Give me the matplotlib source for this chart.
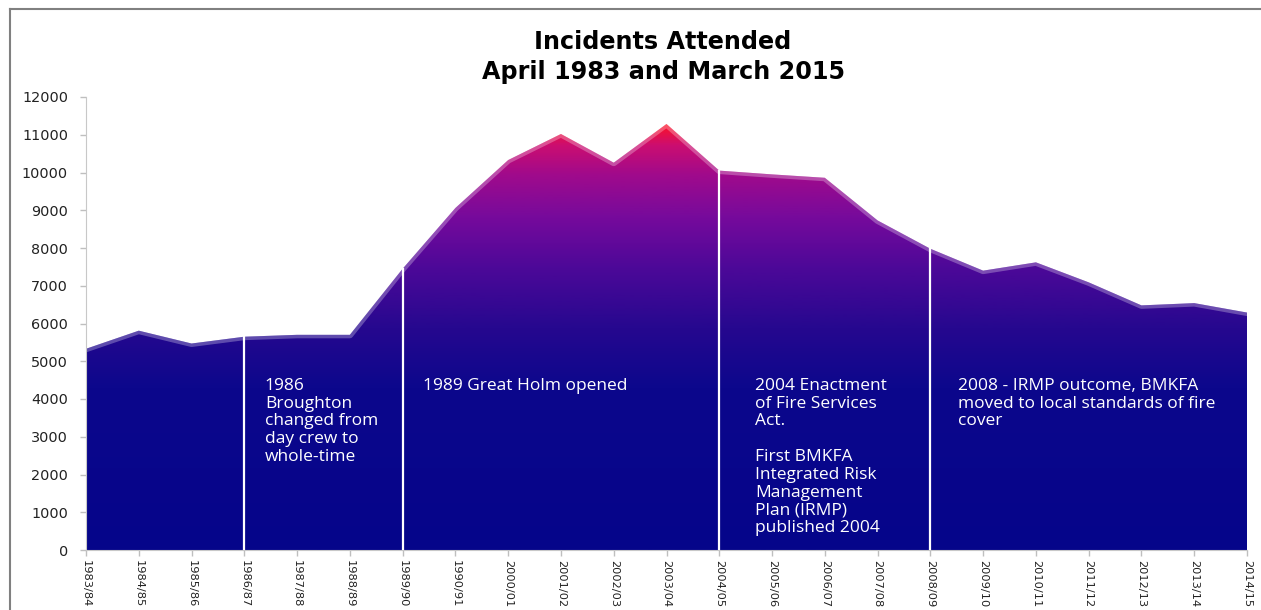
import numpy as np
import matplotlib.pyplot as plt
from matplotlib.colors import LinearSegmentedColormap
from matplotlib.patches import Polygon
from matplotlib.lines import Line2D

years = ["1983/84", "1984/85", "1985/86", "1986/87", "1987/88", "1988/89",
         "1989/90", "1990/91", "2000/01", "2001/02", "2002/03", "2003/04",
         "2004/05", "2005/06", "2006/07", "2007/08", "2008/09", "2009/10",
         "2010/11", "2011/12", "2012/13", "2013/14", "2014/15"]
incidents = [5330, 5810, 5470, 5650, 5700, 5700,
             7450, 9060, 10330, 11020, 10260, 11285,
             10050, 9950, 9860, 8730, 7980, 7400,
             7620, 7090, 6480, 6540, 6290]

event_years = ["1986/87", "1989/90", "2004/05", "2008/09"]
event_notes = [
    "1986\nBroughton\nchanged from\nday crew to\nwhole-time",
    "1989 Great Holm opened",
    "2004 Enactment\nof Fire Services\nAct.\n\nFirst BMKFA\nIntegrated Risk\nManagement\nPlan (IRMP)\npublished 2004",
    "2008 - IRMP outcome, BMKFA\nmoved to local standards of fire\ncover",
]
note_shift = [0.39, 0.39, 0.68, 0.52]

W, H = 1261, 610
fig = plt.figure(figsize=(W / 100, H / 100), dpi=100)
ax = fig.add_axes([86 / W, 1 - 550 / H, (1247 - 86) / W, (550 - 97) / H])

x = np.arange(len(years))
y = np.array(incidents)

# gradient fill clipped to the area shape
grad = LinearSegmentedColormap.from_list("incidents", [
    (0.00, "#05058a"),
    (0.38, "#0c078c"),
    (0.52, "#26088f"),
    (0.66, "#4c0898"),
    (0.78, "#760a9c"),
    (0.88, "#a00a8c"),
    (0.95, "#cc0e70"),
    (1.00, "#ff1224"),
])
shape = Polygon(np.column_stack([np.r_[x[0], x, x[-1]], np.r_[0, y, 0]]),
                closed=True, facecolor="none", edgecolor="none")
ax.add_patch(shape)
img = ax.imshow(np.linspace(0, 1, 512).reshape(-1, 1), cmap=grad, origin="lower",
                aspect="auto", extent=[x[0], x[-1], 0, y.max()], zorder=1)
img.set_clip_path(shape)

# lighter bevel along the top edge
ax.plot(x, y, color="white", alpha=0.28, lw=5, zorder=2, clip_path=shape,
        solid_joinstyle="round")

# event markers
for yr, note, dx in zip(event_years, event_notes, note_shift):
    i = years.index(yr)
    ax.plot([i, i], [0, incidents[i]], color="white", lw=1.6, zorder=3)
    ax.text(i + dx, 4560, note, color="white", fontsize=12.5, family="Open Sans",
            va="top", ha="left", linespacing=1.15, zorder=4)

ax.set_xlim(0, len(years) - 1)
ax.set_ylim(0, 12000)
ax.set_xticks(x)
ax.set_xticklabels(years, rotation=270, fontsize=8.2, family="DejaVu Sans", color="#222222")
ax.set_yticks(np.arange(0, 12001, 1000))
ax.set_yticklabels([str(v) for v in range(0, 12001, 1000)], fontsize=10.4,
                   family="DejaVu Sans", color="#222222")
ax.tick_params(axis="both", color="#bfbfbf", length=4.5, width=1)
ax.tick_params(axis="y", pad=8.5)
ax.tick_params(axis="x", pad=3)
for side in ["top", "right"]:
    ax.spines[side].set_visible(False)
for side in ["left", "bottom"]:
    ax.spines[side].set_color("#c8c8c8")

fig.text(663 / W, 1 - 42 / H, "Incidents Attended", ha="center", va="center",
         fontsize=17.2, fontweight="bold", family="DejaVu Sans")
fig.text(663 / W, 1 - 72 / H, "April 1983 and March 2015", ha="center", va="center",
         fontsize=17.2, fontweight="bold", family="DejaVu Sans")

# outer chart frame
fig.add_artist(Line2D([10 / W, 10 / W], [0, 1 - 9 / H], transform=fig.transFigure,
                      color="#808080", lw=1.5))
fig.add_artist(Line2D([10 / W, 1], [1 - 9 / H, 1 - 9 / H], transform=fig.transFigure,
                      color="#808080", lw=1.5))

fig.savefig("out.png", dpi=100)
